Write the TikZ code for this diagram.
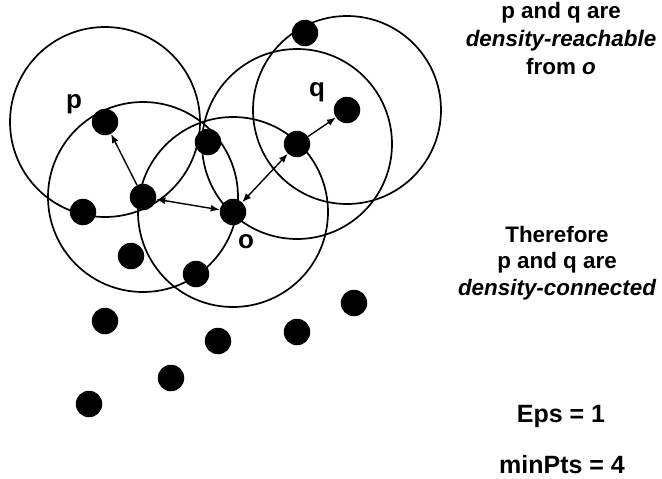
\documentclass[tikz,border=0pt]{standalone}
\usepackage{fontspec}
\setmainfont{Liberation Sans}
\usetikzlibrary{arrows.meta}
\begin{document}
\begin{tikzpicture}[x=1pt,y=-1pt,
  dot/.style={circle,fill=black,inner sep=0pt,minimum size=26.5pt},
  epsball/.style={draw=black,line width=1.7pt},
  link/.style={line width=1.4pt,-{Latex[length=9pt,width=7pt]}},
  dlink/.style={line width=1.4pt,{Latex[length=9pt,width=7pt]}-{Latex[length=9pt,width=7pt]}},
  lbl/.style={font=\fontsize{26}{26}\selectfont\bfseries,anchor=base,inner sep=0pt},
  note/.style={font=\fontsize{22.4}{27}\selectfont\bfseries,anchor=base,inner sep=0pt},
  param/.style={font=\fontsize{25}{30}\selectfont\bfseries,anchor=base,inner sep=0pt}]
\useasboundingbox (0,0) rectangle (662,479);

% core points and their Eps-neighbourhoods
\coordinate (cP) at (105,122);
\coordinate (cA) at (143,197);
\coordinate (cO) at (233,212);
\coordinate (cB) at (297,144);
\coordinate (cQ) at (347,110);

\draw[epsball] (cP) circle[radius=95];
\draw[epsball] (cA) circle[radius=95];
\draw[epsball] (cO) circle[radius=95];
\draw[epsball] (cB) circle[radius=95];
\draw[epsball] (cQ) circle[radius=94];

% data points
\node[dot] (p) at (cP) {};
\node[dot] (a) at (cA) {};
\node[dot] (o) at (cO) {};
\node[dot] (b) at (cB) {};
\node[dot] (q) at (cQ) {};
\node[dot] (t)  at (305,33) {};
\node[dot] (n)  at (208,142) {};
\node[dot] (l)  at (83,212) {};
\node[dot] (d1) at (131,256) {};
\node[dot] (d2) at (196,274) {};
\node[dot] (d3) at (105,321) {};
\node[dot] (d4) at (218,341) {};
\node[dot] (d5) at (297,332) {};
\node[dot] (d6) at (354,303) {};
\node[dot] (d7) at (171,378) {};
\node[dot] (d8) at (89,404) {};

% reachability chain
\draw[link]  (a) -- (p);
\draw[dlink] (a) -- (o);
\draw[dlink] (o) -- (b);
\draw[link]  (b) -- (q);

% point labels
\node[lbl] (lp) at (74,108) {p};
\node[lbl] (lq) at (317,96) {q};
\node[lbl] (lo) at (246,248) {o};

% explanation
\node[note] (r1) at (561,19) {p and q are};
\node[note] (r2) at (561,46) {\itshape density-reachable};
\node[note] (r3) at (561,74) {from \itshape o};

\node[note] (c1) at (557,242) {Therefore};
\node[note] (c2) at (557,268) {p and q are};
\node[note] (c3) at (557,295) {\itshape density-connected};

\node[param] (eps) at (561,422) {Eps = 1};
\node[param] (mp)  at (562,473) {minPts = 4};
\end{tikzpicture}
\end{document}
